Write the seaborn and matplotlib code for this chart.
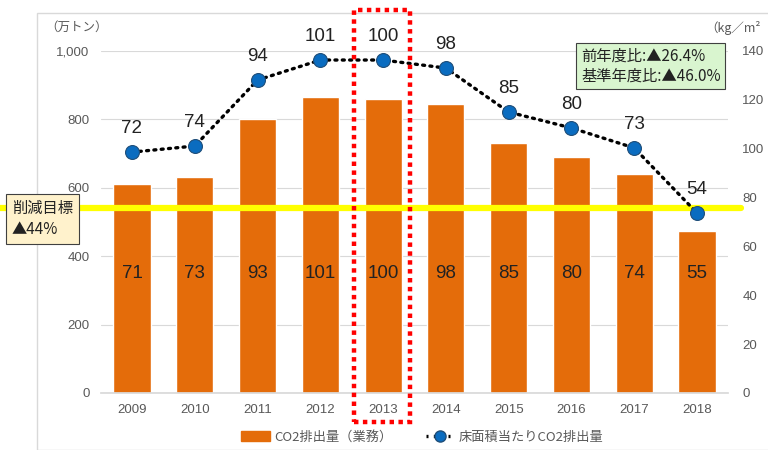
import matplotlib
matplotlib.use('Agg')
import matplotlib.pyplot as plt
from matplotlib.patches import Rectangle, Patch
from matplotlib.lines import Line2D
import numpy as np
import seaborn as sns

# dados
years = ["2009", "2010", "2011", "2012", "2013", "2014", "2015", "2016", "2017", "2018"]
co2 = [611, 632, 801, 865, 860, 845, 731, 690, 640, 474]          # 万トン
co2_index = [71, 73, 93, 101, 100, 98, 85, 80, 74, 55]
per_area = [98.6, 101.1, 128.1, 136.3, 136.3, 133.0, 115.0, 108.5, 100.3, 73.7]  # kg/m2
per_area_index = [72, 74, 94, 101, 100, 98, 85, 80, 73, 54]
target_line = 541
left_ticks = [0, 200, 400, 600, 800, 1000]
right_ticks = [0, 20, 40, 60, 80, 100, 120, 140]

ORANGE = "#E46C0A"
BLUE = "#0A6CC0"
YELLOW = "#FFFF00"
GRAY = "#595959"

sns.set_theme(style="white")
plt.rcParams["font.family"] = ["Liberation Sans", "Noto Sans CJK JP", "DejaVu Sans"]
JP = ["Noto Sans CJK JP", "DejaVu Sans"]

fig = plt.figure(figsize=(7.68, 4.5), dpi=100)
fig.patches.append(Rectangle((37 / 768, 0), 1, 1 - 13 / 450, transform=fig.transFigure,
                             fill=False, edgecolor="#D9D9D9", linewidth=1))
ax = fig.add_axes([0.131, 0.1267, 0.8174, 0.76])
idx = np.arange(len(years))

sns.barplot(x=years, y=co2, ax=ax, color=ORANGE, width=0.59, saturation=1, zorder=2)
ax.set_ylim(0, 1000)
ax.set_yticks(left_ticks)
ax.set_yticklabels([f"{t:,}" for t in left_ticks])
ax.grid(axis="y", color="#D9D9D9", linewidth=0.8, zorder=0)
ax.set_axisbelow(True)
for s in ["top", "left", "right"]:
    ax.spines[s].set_visible(False)
ax.spines["bottom"].set_color("#D9D9D9")
ax.tick_params(axis="both", length=0, colors=GRAY, labelsize=9.5, pad=8)
ax.set_xlabel("")
ax.set_ylabel("")

for i, v in zip(idx, co2_index):
    ax.text(i, 350, str(v), ha="center", va="center", fontsize=13.5, color="#222222", zorder=4)

# linha amarela da meta
ax.axhline(target_line, xmin=-0.16, xmax=1.02, color=YELLOW, linewidth=4.5, zorder=3, clip_on=False)

ax2 = ax.twinx()
sns.lineplot(x=idx, y=per_area, ax=ax2, color="black", linewidth=2.4,
             linestyle=(0, (0.6, 1.6)), dash_capstyle="round", zorder=5)
ax2.plot(idx, per_area, linestyle="none", marker="o", markersize=10,
         markerfacecolor=BLUE, markeredgecolor="#1F4E79", markeredgewidth=0.8, zorder=6)
for i, y, v in zip(idx, per_area, per_area_index):
    ax2.annotate(str(v), (i, y), xytext=(0, 17), textcoords="offset points",
                 ha="center", va="center", fontsize=13.5, color="#222222")
ax2.set_ylim(0, 140)
ax2.set_yticks(right_ticks)
ax2.set_xlim(-0.5, len(years) - 0.5)
for s in ["top", "left", "right", "bottom"]:
    ax2.spines[s].set_visible(False)
ax2.tick_params(axis="y", length=0, colors=GRAY, labelsize=9.5, pad=10)
ax2.grid(False)
ax2.set_ylabel("")

# unidades
fig.text(45 / 768, 1 - 27 / 450, "（万トン）", family=JP, fontsize=9, color=GRAY, va="center")
fig.text(705 / 768, 1 - 28 / 450, "（kg／m²", family=JP, fontsize=9, color=GRAY, va="center")

# caixas de texto
fig.text(12 / 768, 1 - 219 / 450, "削減目標\n▲44%", family=JP, fontsize=11, color="#222222",
         va="center", ha="left", linespacing=1.25,
         bbox=dict(boxstyle="square,pad=0.4", facecolor="#FFF2CC", edgecolor="#404040", linewidth=0.8))
fig.text(581 / 768, 1 - 66 / 450, "前年度比:▲26.4%\n基準年度比:▲46.0%", family=JP, fontsize=11,
         color="#222222", va="center", ha="left", linespacing=1.25,
         bbox=dict(boxstyle="square,pad=0.3", facecolor="#D9F5CF", edgecolor="#404040", linewidth=0.8))

# destaque 2013
fig.patches.append(Rectangle((354 / 768, 1 - 422 / 450), 56 / 768, 412 / 450, transform=fig.transFigure,
                             fill=False, edgecolor="#FF0000", linewidth=3.2, linestyle=(0, (1, 1))))

handles = [Patch(facecolor=ORANGE, edgecolor=ORANGE),
           Line2D([], [], color="black", linestyle=(0, (0.6, 1.6)), linewidth=2.4, marker="o",
                  markersize=8, markerfacecolor=BLUE, markeredgecolor="#1F4E79")]
fig.legend(handles, ["CO2排出量（業務）", "床面積当たりCO2排出量"], loc="center",
           bbox_to_anchor=(0.55, 1 - 437 / 450), ncol=2, frameon=False,
           prop={"family": JP, "size": 9.5}, labelcolor=GRAY, handlelength=2.2,
           columnspacing=2.5, handletextpad=0.3)

fig.savefig("out.png", dpi=100)
